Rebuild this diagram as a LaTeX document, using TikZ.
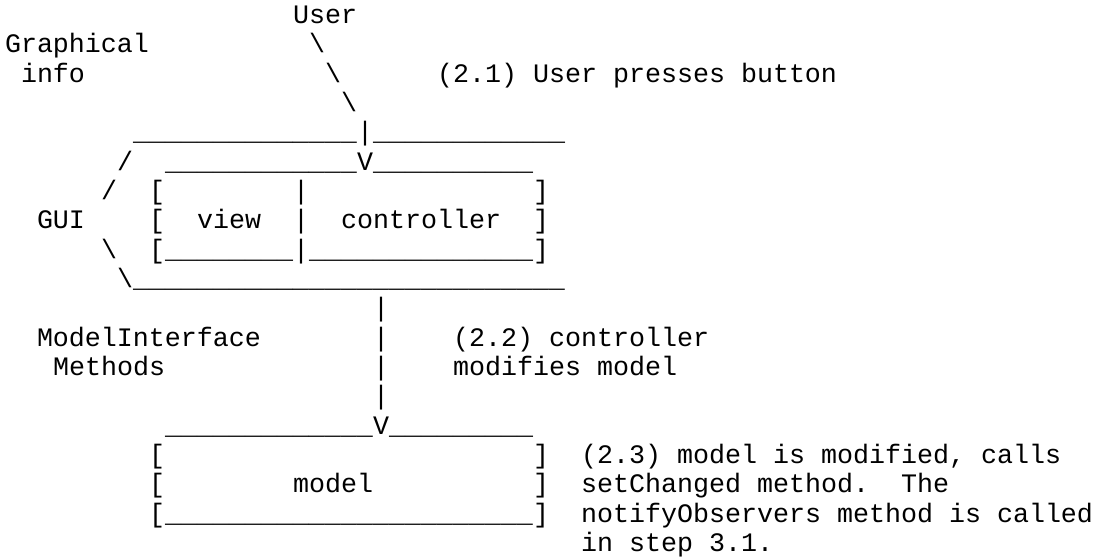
\documentclass[tikz,border=0pt]{standalone}
\usepackage{fontspec}
\setmonofont{Liberation Mono}
\newcommand\underrun[1]{\foreach\k in {1,...,#1}{\_}}

\begin{document}
\begin{tikzpicture}[x=8pt,y=-14.675pt,
  ascii/.style={anchor=base west,inner sep=0pt,outer sep=0pt,
    font=\ttfamily\frenchspacing\fontsize{13.333pt}{14.675pt}\selectfont}]
  \path[fill=white,use as bounding box] (-0.3125,-0.794) rectangle (68.5625,18.218);

  % user and the button press
  \node[ascii] (user) at (18,0) {User};
  \node[ascii] (graphical) at (0,1) {Graphical};
  \node[ascii] (info) at (1,2) {info};
  \node[ascii] (press1) at (19,1) {\textbackslash};
  \node[ascii] (press2) at (20,2) {\textbackslash};
  \node[ascii] (press3) at (21,3) {\textbackslash};
  \node[ascii] (step21) at (27,2) {(2.1) User presses button};

  % GUI frame
  \node[ascii] (guitopl) at (8,4) {\underrun{14}};
  \node[ascii] (guistem) at (22,4) {|};
  \node[ascii] (guitopr) at (23,4) {\underrun{12}};
  \node[ascii] (guiul) at (7,5) {/};
  \node[ascii] (boxtopl) at (10,5) {\underrun{12}};
  \node[ascii] (guiarrow) at (22,5) {V};
  \node[ascii] (boxtopr) at (23,5) {\underrun{10}};
  \node[ascii] (guiul2) at (6,6) {/};
  \node[ascii] (gui) at (2,7) {GUI};
  \node[ascii] (guill) at (6,8) {\textbackslash};
  \node[ascii] (guill2) at (7,9) {\textbackslash};
  \node[ascii] (guibot) at (8,9) {\underrun{27}};

  % view / controller box
  \foreach \r in {6,7,8} {
    \node[ascii] (vcl\r) at (9,\r) {[};
    \node[ascii] (vcm\r) at (18,\r) {|};
    \node[ascii] (vcr\r) at (33,\r) {]};
  }
  \node[ascii] (view) at (12,7) {view};
  \node[ascii] (controller) at (21,7) {controller};
  \node[ascii] (vcbotl) at (10,8) {\underrun{8}};
  \node[ascii] (vcbotr) at (19,8) {\underrun{14}};

  % controller to model
  \foreach \r in {10,...,13}
    \node[ascii] (link\r) at (23,\r) {|};
  \node[ascii] (modelif) at (2,11) {ModelInterface};
  \node[ascii] (methods) at (3,12) {Methods};
  \node[ascii] (step22a) at (28,11) {(2.2) controller};
  \node[ascii] (step22b) at (28,12) {modifies model};

  % model box
  \node[ascii] (mtopl) at (10,14) {\underrun{13}};
  \node[ascii] (marrow) at (23,14) {V};
  \node[ascii] (mtopr) at (24,14) {\underrun{9}};
  \foreach \r in {15,16,17} {
    \node[ascii] (ml\r) at (9,\r) {[};
    \node[ascii] (mr\r) at (33,\r) {]};
  }
  \node[ascii] (model) at (18,16) {model};
  \node[ascii] (mbot) at (10,17) {\underrun{23}};
  \node[ascii] (step23a) at (36,15) {(2.3) model is modified, calls};
  \node[ascii] (step23b) at (36,16) {setChanged method.\ \ The};
  \node[ascii] (step23c) at (36,17) {notifyObservers method is called};
  \node[ascii] (step23d) at (36,18) {in step 3.1.};
\end{tikzpicture}
\end{document}
